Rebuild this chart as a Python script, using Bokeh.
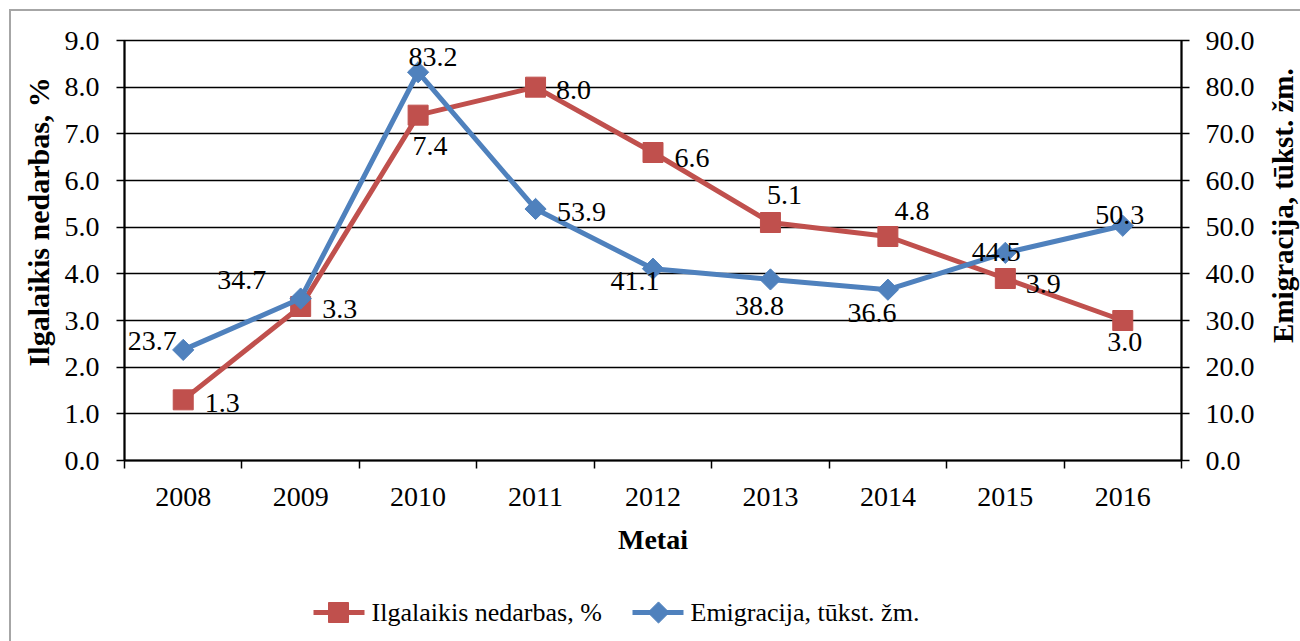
import math
from bokeh.plotting import figure
from bokeh.layouts import column, row
from bokeh.models import Range1d, LinearAxis, FixedTicker, NumeralTickFormatter, ColumnDataSource
from bokeh.core.properties import value
from bokeh.embed import file_html
from bokeh.resources import INLINE

# ---------------- data ----------------
years = ["2008", "2009", "2010", "2011", "2012", "2013", "2014", "2015", "2016"]
unemployment = [1.3, 3.3, 7.4, 8.0, 6.6, 5.1, 4.8, 3.9, 3.0]          # Ilgalaikis nedarbas, %
emigration = [23.7, 34.7, 83.2, 53.9, 41.1, 38.8, 36.6, 44.5, 50.3]   # Emigracija, tūkst. žm.
left_ticks = [0, 1, 2, 3, 4, 5, 6, 7, 8, 9]
right_ticks = [0, 10, 20, 30, 40, 50, 60, 70, 80, 90]
unemp_name = "Ilgalaikis nedarbas, %"
emig_name = "Emigracija, tūkst. žm."
x_title = "Metai"

# data-label offsets in px (dx: right, dy: down)
unemp_dx = [39, 39, 12, 38, 39, 14, 24, 38, 2]
unemp_dy = [3, 2, 31, 3, 5, -28, -26, 5, 21]
emig_dx = [-31, -59, 15, 46, -18, -11, -16, -9, -3]
emig_dy = [-9, -19, -15, 3, 12, 27, 23, -1, -11]

RED = "#C0504D"
BLUE = "#4F81BD"
FONT = "Liberation Serif"
LW = 5
H = 570

n = len(years)
xs = [i + 0.5 for i in range(n)]

src_u = ColumnDataSource(dict(x=xs, y=unemployment,
                              lab=[f"{v:.1f}" for v in unemployment],
                              dx=unemp_dx, dy=unemp_dy))
src_e = ColumnDataSource(dict(x=xs, y=emigration,
                              lab=[f"{v:.1f}" for v in emigration],
                              dx=emig_dx, dy=emig_dy))


def blank(width, height):
    f = figure(width=width, height=height, output_backend="svg", toolbar_location=None,
               x_axis_location=None, y_axis_location=None, min_border=0,
               x_range=Range1d(0, width), y_range=Range1d(0, height))
    f.grid.visible = False
    f.outline_line_color = None
    f.background_fill_color = "white"
    f.border_fill_color = "white"
    return f


# ---------------- main chart ----------------
p = figure(width=1202, height=H,
           x_range=Range1d(0, n), y_range=Range1d(left_ticks[0], left_ticks[-1]),
           output_backend="svg", toolbar_location=None,
           min_border_left=62, min_border_right=82,
           min_border_top=29, min_border_bottom=121)
p.extra_y_ranges = {"emig": Range1d(right_ticks[0], right_ticks[-1])}
p.outline_line_color = "black"
p.outline_line_width = 1.5
p.background_fill_color = "white"
p.border_fill_color = "white"

# x axis
xa = p.xaxis[0]
xa.ticker = FixedTicker(ticks=xs, minor_ticks=list(range(n + 1)))
xa.major_label_overrides = {x: y for x, y in zip(xs, years)}
xa.major_tick_out = 0
xa.major_tick_in = 0
xa.minor_tick_out = 8
xa.minor_tick_in = 0
xa.minor_tick_line_color = "black"
xa.minor_tick_line_width = 1.5
xa.axis_line_color = "black"
xa.axis_line_width = 2
xa.major_label_standoff = 19
xa.major_label_text_font = FONT
xa.major_label_text_font_size = "28px"
xa.major_label_text_color = "black"
xa.axis_label = x_title
xa.axis_label_text_font = FONT
xa.axis_label_text_font_style = "bold"
xa.axis_label_text_font_size = "28px"
xa.axis_label_text_color = "black"
xa.axis_label_standoff = 15

# left y axis
ya = p.yaxis[0]
ya.ticker = FixedTicker(ticks=left_ticks)
ya.formatter = NumeralTickFormatter(format="0.0")
ya.major_tick_out = 8
ya.major_tick_in = 0
ya.minor_tick_out = 0
ya.minor_tick_in = 0
ya.major_tick_line_color = "black"
ya.major_tick_line_width = 1.5
ya.axis_line_color = "black"
ya.axis_line_width = 2
ya.major_label_standoff = 17
ya.major_label_text_font = FONT
ya.major_label_text_font_size = "28px"
ya.major_label_text_color = "black"

# right y axis
ra = LinearAxis(y_range_name="emig", ticker=FixedTicker(ticks=right_ticks),
                formatter=NumeralTickFormatter(format="0.0"))
ra.major_tick_out = 8
ra.major_tick_in = 0
ra.minor_tick_out = 0
ra.minor_tick_in = 0
ra.major_tick_line_color = "black"
ra.major_tick_line_width = 1.5
ra.axis_line_color = "black"
ra.axis_line_width = 2
ra.major_label_standoff = 16
ra.major_label_text_font = FONT
ra.major_label_text_font_size = "28px"
ra.major_label_text_color = "black"
p.add_layout(ra, "right")

# grid
p.xgrid.visible = False
p.ygrid.ticker = FixedTicker(ticks=left_ticks)
p.ygrid.grid_line_color = "black"
p.ygrid.grid_line_width = 1.5

# series
p.line("x", "y", source=src_u, line_color=RED, line_width=LW)
p.scatter("x", "y", source=src_u, marker="square", size=20, fill_color=RED, line_color=RED)
p.line("x", "y", source=src_e, y_range_name="emig", line_color=BLUE, line_width=LW)
p.scatter("x", "y", source=src_e, y_range_name="emig", marker="square",
          angle=math.pi / 4, size=15, fill_color=BLUE, line_color=BLUE)

# data labels
p.text("x", "y", text="lab", source=src_u, x_offset="dx", y_offset="dy",
       text_align="center", text_baseline="middle", text_font=value(FONT),
       text_font_size="28px", text_color="black")
p.text("x", "y", text="lab", source=src_e, y_range_name="emig", x_offset="dx", y_offset="dy",
       text_align="center", text_baseline="middle", text_font=value(FONT),
       text_font_size="28px", text_color="black")

# ---------------- rotated axis titles (read bottom to top) ----------------
lt = blank(50, H)
lt.text(x=[27], y=[324], text=[unemp_name], angle=math.pi / 2,
        text_align="center", text_baseline="middle", text_font=value(FONT),
        text_font_style="bold", text_font_size="30px", text_color="black")

rt = blank(37, H)
rt.text(x=[19], y=[346], text=[emig_name], angle=math.pi / 2,
        text_align="center", text_baseline="middle", text_font=value(FONT),
        text_font_style="bold", text_font_size="29px", text_color="black")

# ---------------- legend strip ----------------
LH = 60
lf = blank(1289, LH)
key_start = [302, 621]       # left end of each legend key (px in strip)
key_len = 51
key_y = 29
lf.segment(x0=[key_start[0]], y0=[key_y], x1=[key_start[0] + key_len], y1=[key_y],
           line_color=RED, line_width=LW)
lf.scatter(x=[key_start[0] + 25], y=[key_y], marker="square", size=20,
           fill_color=RED, line_color=RED)
lf.segment(x0=[key_start[1]], y0=[key_y], x1=[key_start[1] + key_len], y1=[key_y],
           line_color=BLUE, line_width=LW)
lf.scatter(x=[key_start[1] + 26], y=[key_y], marker="square", angle=math.pi / 4, size=15,
           fill_color=BLUE, line_color=BLUE)
lf.text(x=[key_start[0] + 58, key_start[1] + 58], y=[key_y, key_y],
        text=[unemp_name, emig_name], text_align="left", text_baseline="middle",
        text_font=value(FONT), text_font_size="26px", text_color="black")

layout = column(row(lt, p, rt, spacing=0), lf, spacing=0,
                styles={"margin": "9px 0 0 9px",
                        "border-left": "2px solid #A6A6A6",
                        "border-top": "2px solid #A6A6A6"})

open("out.html", "w").write(file_html(layout, INLINE))
